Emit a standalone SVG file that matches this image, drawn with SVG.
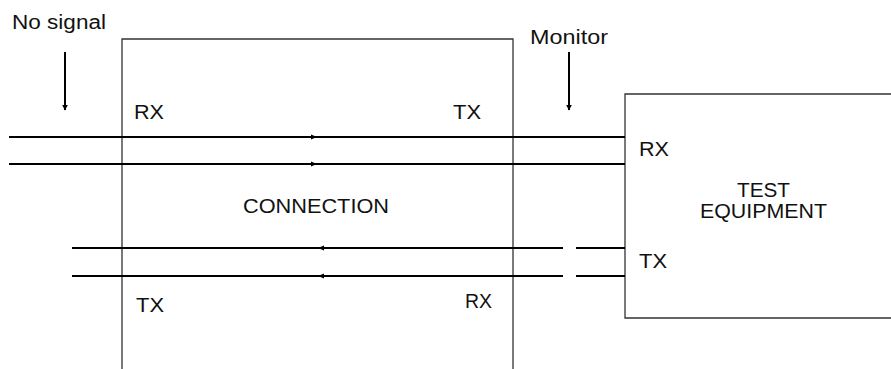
<svg xmlns="http://www.w3.org/2000/svg" width="891" height="369" viewBox="0 0 891 369">
<defs>
<style>
.box{fill:none;stroke:#333;stroke-width:1.3}
.wire{stroke:#000;stroke-width:2.2;fill:none}
.ptr{stroke:#000;stroke-width:2;fill:none}
.lbl{font-family:"Liberation Sans",Arial,sans-serif;font-size:20px;fill:#111}
</style>
<marker id="ah" viewBox="0 0 10 10" refX="9" refY="5" markerWidth="3" markerHeight="4" markerUnits="strokeWidth" orient="auto">
<path d="M0,0 L10,5 L0,10 z" fill="#000"/>
</marker>
</defs>
<rect width="891" height="369" fill="#fff"/>
<g id="connection">
<path class="box" d="M122,375 V39 H513 V375"/>
<text class="lbl" x="243" y="213" textLength="146" lengthAdjust="spacingAndGlyphs">CONNECTION</text>
<text class="lbl" x="134" y="119" textLength="30" lengthAdjust="spacingAndGlyphs">RX</text>
<text class="lbl" x="453" y="119" textLength="28" lengthAdjust="spacingAndGlyphs">TX</text>
<text class="lbl" x="136" y="312" textLength="28" lengthAdjust="spacingAndGlyphs">TX</text>
<text class="lbl" x="465" y="308" textLength="27" lengthAdjust="spacingAndGlyphs">RX</text>
</g>
<g id="test-equipment">
<path class="box" d="M891,94 H625 V318 H891"/>
<text class="lbl" x="639" y="156" textLength="30" lengthAdjust="spacingAndGlyphs">RX</text>
<text class="lbl" x="639" y="268" textLength="28" lengthAdjust="spacingAndGlyphs">TX</text>
<text class="lbl" x="737" y="197" textLength="53" lengthAdjust="spacingAndGlyphs">TEST</text>
<text class="lbl" x="700" y="218" textLength="127" lengthAdjust="spacingAndGlyphs">EQUIPMENT</text>
</g>
<g id="no-signal">
<text class="lbl" x="12" y="29" textLength="94" lengthAdjust="spacingAndGlyphs">No signal</text>
</g>
<g id="monitor">
<text class="lbl" x="530" y="44" textLength="78" lengthAdjust="spacingAndGlyphs">Monitor</text>
</g>
<g id="connectors">
<line class="wire" x1="9" y1="137" x2="625" y2="137"/>
<line class="wire" x1="9" y1="164" x2="625" y2="164"/>
<line class="wire" x1="72" y1="248" x2="563" y2="248"/>
<line class="wire" x1="72" y1="276" x2="563" y2="276"/>
<line class="wire" x1="576" y1="248" x2="625" y2="248"/>
<line class="wire" x1="576" y1="276" x2="625" y2="276"/>
<path d="M311,134.5 L317,137 L311,139.5 z" fill="#000"/>
<path d="M311,161.5 L317,164 L311,166.5 z" fill="#000"/>
<path d="M324,245.5 L318,248 L324,250.5 z" fill="#000"/>
<path d="M324,273.5 L318,276 L324,278.5 z" fill="#000"/>
<line class="ptr" x1="65" y1="52" x2="65" y2="110" marker-end="url(#ah)"/>
<line class="ptr" x1="569" y1="52" x2="569" y2="110" marker-end="url(#ah)"/>
</g>
</svg>
